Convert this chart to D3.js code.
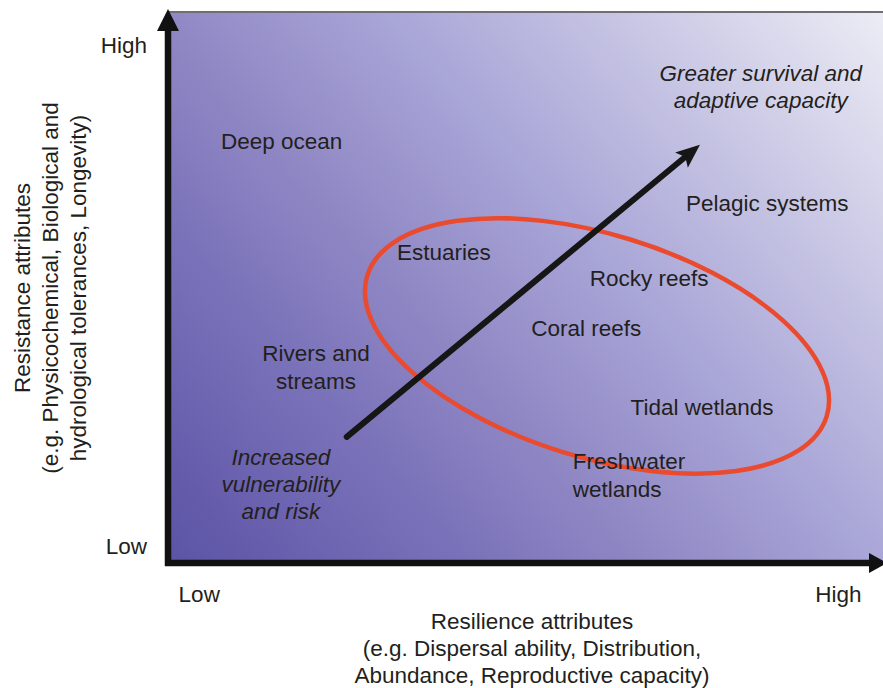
<!DOCTYPE html>
<html>
<head>
<meta charset="utf-8">
<script src="https://cdn.jsdelivr.net/npm/d3@7"></script>
<style>
  html, body { margin: 0; padding: 0; background: #ffffff; }
  svg { display: block; }
  text { font-family: "Liberation Sans", Arial, Helvetica, sans-serif; fill: #231f20; }
</style>
</head>
<body>
<svg id="chart" width="883" height="688"></svg>
<script>
// ---- data (resilience = x, resistance = y, both on a 0–10 qualitative scale) ----
const ecosystems = ["Deep ocean", "Pelagic systems", "Estuaries", "Rocky reefs", "Coral reefs",
                    "Rivers and\nstreams", "Tidal wetlands", "Freshwater\nwetlands"];
const resilience = [1.59, 8.38, 3.86, 6.73, 5.85, 2.07, 7.47, 5.66];
const resistance = [7.66, 6.53, 5.64, 5.17, 4.26, 3.56, 2.83, 1.60];

const annotations = ["Increased\nvulnerability\nand risk", "Greater survival and\nadaptive capacity"];
const annotationResilience = [1.58, 8.29];
const annotationResistance = [1.43, 8.64];

// trend arrow: from low/low to high/high
const trendResilience = [2.50, 7.44];
const trendResistance = [2.29, 7.59];

// highlighted group (ellipse): centre, semi-axes (in resilience units) and tilt (deg)
const ellipseCentre = [6.0, 3.94];
const ellipseAxes = [3.36, 1.56];
const ellipseTilt = 17;

const xTickValues = [0.43, 9.37];
const yTickValues = [0.31, 9.40];
const tickLabels = ["Low", "High"];

const xTitle = ["Resilience attributes", "(e.g. Dispersal ability, Distribution,", "Abundance, Reproductive capacity)"];
const yTitle = ["Resistance attributes", "(e.g. Physicochemical, Biological and", "hydrological tolerances, Longevity)"];

// ---- drawing ----
const svg = d3.select("#chart");
const FS = 22.5;
const x = d3.scaleLinear().domain([0, 10]).range([168, 883]);
const y = d3.scaleLinear().domain([0, 10]).range([563, 12]);

// background gradient
const defs = svg.append("defs");
const grad = defs.append("linearGradient")
  .attr("id", "bg").attr("gradientUnits", "userSpaceOnUse")
  .attr("x1", x(0)).attr("y1", y(0)).attr("x2", 840).attr("y2", -36);
[[0, "#5b53a5"], [0.25, "#7a72b9"], [0.41, "#9189c5"], [0.59, "#a9a6d8"], [0.77, "#c6c4e3"], [1, "#ececf5"]]
  .forEach(([o, c]) => grad.append("stop").attr("offset", o).attr("stop-color", c));

svg.append("rect")
  .attr("x", x(0)).attr("y", y(10))
  .attr("width", x(10) - x(0)).attr("height", y(0) - y(10))
  .attr("fill", "url(#bg)");

// top border
svg.append("line")
  .attr("x1", x(0)).attr("x2", x(10)).attr("y1", y(10)).attr("y2", y(10))
  .attr("stroke", "#6e6e74").attr("stroke-width", 2.2);

// axes (tick labels)
const xAxis = svg.append("g").attr("transform", `translate(0,${y(0)})`)
  .call(d3.axisBottom(x).tickValues(xTickValues).tickFormat((d, i) => tickLabels[i]).tickSize(0).tickPadding(23));
const yAxis = svg.append("g").attr("transform", `translate(${x(0)},0)`)
  .call(d3.axisLeft(y).tickValues(yTickValues).tickFormat((d, i) => tickLabels[i]).tickSize(0).tickPadding(21));
[xAxis, yAxis].forEach(g => {
  g.select(".domain").remove();
  g.selectAll("text").attr("font-size", FS).attr("font-family", "Liberation Sans, Arial, sans-serif").attr("fill", "#231f20");
});

// thick axis arrows
const axisColor = "#111111";
svg.append("line")
  .attr("x1", x(0)).attr("x2", x(0)).attr("y1", y(0) + 3).attr("y2", y(10) + 16)
  .attr("stroke", axisColor).attr("stroke-width", 6.5);
svg.append("path")
  .attr("d", `M${x(0)},${y(10) - 3} L${x(0) - 11},${y(10) + 19} L${x(0) + 11},${y(10) + 19} Z`)
  .attr("fill", axisColor);
svg.append("line")
  .attr("x1", x(0) - 3).attr("x2", x(10) - 10).attr("y1", y(0)).attr("y2", y(0))
  .attr("stroke", axisColor).attr("stroke-width", 6.5);
svg.append("path")
  .attr("d", `M${x(10) + 4},${y(0)} L${x(10) - 14},${y(0) - 10} L${x(10) - 14},${y(0) + 10} Z`)
  .attr("fill", axisColor);

// ellipse
const ex = x(ellipseCentre[0]), ey = y(ellipseCentre[1]);
svg.append("ellipse")
  .attr("cx", 0).attr("cy", 0)
  .attr("rx", x(ellipseAxes[0]) - x(0)).attr("ry", x(ellipseAxes[1]) - x(0))
  .attr("transform", `translate(${ex},${ey}) rotate(${ellipseTilt})`)
  .attr("fill", "none").attr("stroke", "#ea4a2e").attr("stroke-width", 4.5);

// trend arrow
const ax1 = x(trendResilience[0]), ay1 = y(trendResistance[0]);
const ax2 = x(trendResilience[1]), ay2 = y(trendResistance[1]);
const ang = Math.atan2(ay2 - ay1, ax2 - ax1);
const headLen = 24, headHalf = 10;
const bx = ax2 - headLen * Math.cos(ang), by = ay2 - headLen * Math.sin(ang);
svg.append("line")
  .attr("x1", ax1).attr("y1", ay1).attr("x2", bx + 4 * Math.cos(ang)).attr("y2", by + 4 * Math.sin(ang))
  .attr("stroke", "#161616").attr("stroke-width", 6).attr("stroke-linecap", "round");
svg.append("path")
  .attr("d", `M${ax2},${ay2} L${bx - headHalf * Math.sin(ang)},${by + headHalf * Math.cos(ang)} L${bx + 5 * Math.cos(ang)},${by + 5 * Math.sin(ang)} L${bx + headHalf * Math.sin(ang)},${by - headHalf * Math.cos(ang)} Z`)
  .attr("fill", "#161616");

// multi-line label helper (centred block)
function block(sel, lines, px, py, lh, anchor) {
  const t = sel.append("text").attr("font-size", FS).attr("text-anchor", anchor);
  const n = lines.length;
  lines.forEach((ln, i) => {
    t.append("tspan").attr("x", px).attr("y", py + (i - (n - 1) / 2) * lh).attr("dy", "0.35em").text(ln);
  });
  return t;
}

const labels = svg.append("g");
ecosystems.forEach((name, i) => {
  const anchor = name.startsWith("Freshwater") ? "start" : "middle";
  block(labels, name.split("\n"), x(resilience[i]), y(resistance[i]), 28, anchor);
});
annotations.forEach((a, i) => {
  block(labels, a.split("\n"), x(annotationResilience[i]), y(annotationResistance[i]), 27, "middle")
    .attr("font-style", "italic");
});

// axis titles
block(svg, xTitle, 532, 648, 27, "middle");
const yt = svg.append("g").attr("transform", `translate(50,288) rotate(-90)`);
block(yt, yTitle, 0, 0, 28, "middle");
</script>
</body>
</html>
